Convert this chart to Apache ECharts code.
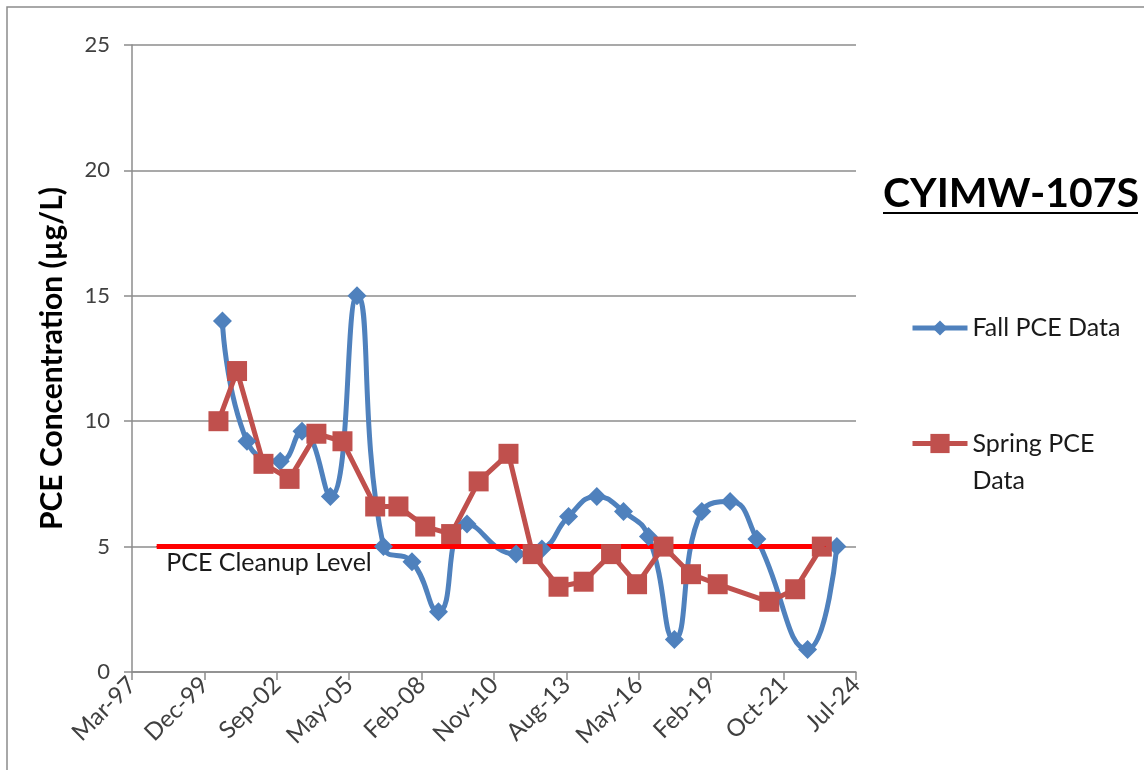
<!DOCTYPE html>
<html>
<head>
<meta charset="utf-8">
<title>CYIMW-107S</title>
<script src="https://cdn.jsdelivr.net/npm/echarts@6/dist/echarts.min.js"></script>
<style>
  html, body { margin: 0; padding: 0; background: #fff; }
  #main { width: 1144px; height: 770px; }
</style>
</head>
<body>
<div id="main"></div>
<script>
// sample dates and PCE values (ug/L)
var fallDates = ['2000-08-11', '2001-07-16', '2002-10-19', '2003-08-15', '2004-09-10', '2005-09-13',
  '2006-09-13', '2007-10-12', '2008-10-12', '2009-11-10', '2011-09-20', '2012-09-09', '2013-09-13',
  '2014-10-08', '2015-10-12', '2016-09-20', '2017-09-13', '2018-09-27', '2019-10-23', '2020-10-27',
  '2022-09-27', '2023-11-06'];
var fallValues = [14.0, 9.2, 8.4, 9.6, 7.0, 15.0, 5.0, 4.4, 2.4, 5.9, 4.7, 4.9, 6.2, 7.0, 6.4, 5.4,
  1.3, 6.4, 6.8, 5.3, 0.9, 5.0];

var springDates = ['2000-06-17', '2001-03-01', '2002-03-01', '2003-02-24', '2004-03-01', '2005-02-24',
  '2006-05-22', '2007-04-08', '2008-04-12', '2009-04-05', '2010-04-20', '2011-06-06', '2012-05-05',
  '2013-04-27', '2014-04-09', '2015-04-23', '2016-04-16', '2017-04-16', '2018-05-01', '2019-05-05',
  '2021-04-16', '2022-04-09', '2023-04-12'];
var springValues = [10.0, 12.0, 8.3, 7.7, 9.5, 9.2, 6.6, 6.6, 5.8, 5.5, 7.6, 8.7, 4.7, 3.4, 3.6, 4.7,
  3.5, 5.0, 3.9, 3.5, 2.8, 3.3, 5.0];

var cleanupDates = ['1998-02-15', '2023-05-28'];
var cleanupValues = [5, 5];

// x axis: days counted from Mar-97 (Excel serial 35500), ticks every 1000 days
var ORIGIN = Date.UTC(1997, 2, 11);
var DAY = 86400000;
var MONTHS = ['Jan', 'Feb', 'Mar', 'Apr', 'May', 'Jun', 'Jul', 'Aug', 'Sep', 'Oct', 'Nov', 'Dec'];

function toDays(s) {
  var p = s.split('-');
  return (Date.UTC(+p[0], +p[1] - 1, +p[2]) - ORIGIN) / DAY;
}
function pairs(dates, vals) {
  return dates.map(function (d, i) { return [toDays(d), vals[i]]; });
}
function dayLabel(v) {
  var d = new Date(ORIGIN + v * DAY);
  return MONTHS[d.getUTCMonth()] + '-' + String(d.getUTCFullYear()).slice(2);
}

var FONT = 'Lato';
var GRAY = '#8c8c8c';

var cleanupData = pairs(cleanupDates, cleanupValues);
cleanupData[0] = {
  value: cleanupData[0],
  label: {
    show: true,
    formatter: 'PCE Cleanup Level',
    position: 'right',
    distance: 0,
    offset: [9, 16],
    fontFamily: FONT,
    fontSize: 25,
    color: '#1a1a1a'
  }
};

var chart = echarts.init(document.getElementById('main'));
chart.setOption({
  animation: false,
  backgroundColor: '#fff',
  grid: { left: 132, right: 288, top: 45, bottom: 98 },
  xAxis: {
    type: 'value',
    min: 0,
    max: 10000,
    interval: 1000,
    axisLine: { show: true, lineStyle: { color: GRAY, width: 1.5 } },
    axisTick: { show: true, length: 8, lineStyle: { color: GRAY, width: 1.5 } },
    splitLine: { show: false },
    axisLabel: {
      rotate: 45,
      margin: 9,
      formatter: dayLabel,
      fontFamily: FONT,
      fontSize: 24,
      color: '#404040'
    }
  },
  yAxis: {
    type: 'value',
    min: 0,
    max: 25,
    interval: 5,
    name: 'PCE Concentration (µg/L)',
    nameLocation: 'middle',
    nameGap: 65,
    nameTextStyle: { fontFamily: FONT, fontSize: 30, fontWeight: 'bold', color: '#000' },
    axisLine: { show: true, lineStyle: { color: GRAY, width: 1.5 } },
    axisTick: { show: true, length: 8, lineStyle: { color: GRAY, width: 1.5 } },
    splitLine: { show: true, lineStyle: { color: GRAY, width: 1.5 } },
    axisLabel: { margin: 22, fontFamily: FONT, fontSize: 22, color: '#404040' }
  },
  legend: [
    {
      data: ['Fall PCE Data'],
      orient: 'vertical',
      left: 910,
      top: 313,
      padding: 0,
      itemWidth: 55,
      itemHeight: 19,
      lineStyle: { width: 5 },
      textStyle: { fontFamily: FONT, fontSize: 25, lineHeight: 30, color: '#1a1a1a' }
    },
    {
      data: ['Spring PCE Data'],
      orient: 'vertical',
      left: 910,
      top: 388,
      padding: 0,
      itemWidth: 55,
      itemHeight: 24,
      lineStyle: { width: 5 },
      // leading empty line keeps the icon level with the first text line
      formatter: function () { return '\nSpring PCE\nData'; },
      textStyle: { fontFamily: FONT, fontSize: 25, color: '#1a1a1a', lineHeight: 37 }
    }
  ],
  graphic: [
    {
      type: 'rect',
      silent: true,
      shape: { x: 7, y: 7, width: 1170, height: 800 },
      style: { fill: 'none', stroke: GRAY, lineWidth: 1.5 }
    },
    {
      type: 'text',
      left: 883,
      top: 173,
      style: { text: 'CYIMW-107S', fontFamily: FONT, fontSize: 41, fontWeight: 'bold', fill: '#000' }
    },
    {
      type: 'line',
      silent: true,
      shape: { x1: 883, y1: 213, x2: 1138, y2: 213 },
      style: { stroke: '#000', lineWidth: 2 }
    }
  ],
  series: [
    {
      name: 'Fall PCE Data',
      type: 'line',
      smooth: 0.5,
      data: pairs(fallDates, fallValues),
      symbol: 'diamond',
      symbolSize: 19,
      lineStyle: { color: '#4f81bd', width: 5 },
      itemStyle: { color: '#4f81bd' }
    },
    {
      name: 'Spring PCE Data',
      type: 'line',
      data: pairs(springDates, springValues),
      symbol: 'rect',
      symbolSize: 20,
      lineStyle: { color: '#c0504d', width: 5 },
      itemStyle: { color: '#c0504d' }
    },
    {
      name: 'PCE Cleanup Level',
      type: 'line',
      data: cleanupData,
      symbol: 'circle',
      symbolSize: 1,
      lineStyle: { color: '#ff0000', width: 5 },
      itemStyle: { color: '#ff0000' }
    }
  ]
});
</script>
</body>
</html>
